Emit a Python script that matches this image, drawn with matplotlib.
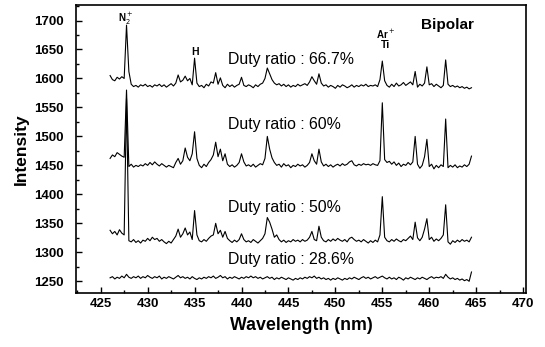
import numpy as np
import matplotlib
matplotlib.use("Agg")
import matplotlib.pyplot as plt
from matplotlib.ticker import MultipleLocator

plt.rcParams["font.family"] = ["Liberation Sans", "DejaVu Sans"]

# ======================
# Data (0.25 nm steps from 426 to 464.5 nm)
# ======================

wavelength = np.arange(426.0, 464.51, 0.25)

duty_667 = [
    1605, 1598, 1596, 1602, 1599, 1603, 1600, 1692, 1612, 1590, 1586, 1588, 1585, 1589, 1587, 1590, 1586, 1588, 1585, 1589,
    1587, 1590, 1586, 1589, 1585, 1588, 1591, 1587, 1592, 1606, 1594, 1597, 1604, 1596, 1600, 1589, 1635, 1592, 1586, 1588,
    1584, 1590, 1587, 1594, 1592, 1610, 1590, 1601, 1588, 1584, 1590, 1586, 1589, 1585, 1588, 1590, 1602, 1588, 1586, 1589,
    1587, 1584, 1589, 1586, 1590, 1592, 1600, 1618, 1608, 1598, 1592, 1589, 1591, 1587, 1590, 1586, 1589, 1585, 1588, 1586,
    1590, 1587, 1589, 1591, 1588, 1594, 1603, 1596, 1590, 1608, 1592, 1587, 1589, 1585, 1588, 1586, 1583, 1588, 1585, 1589,
    1587, 1584, 1586, 1589, 1585, 1588, 1586, 1589, 1587, 1590, 1586, 1588, 1587, 1589, 1586, 1598, 1630, 1596, 1588, 1585,
    1590, 1586, 1592, 1587, 1589, 1593, 1588, 1591, 1594, 1589, 1612, 1585, 1590, 1587, 1592, 1620, 1589, 1591, 1586, 1590,
    1587, 1584, 1588, 1632, 1590, 1586, 1588, 1585, 1587, 1584, 1586, 1583, 1585, 1582, 1584,
]

duty_60 = [
    1462, 1468, 1465, 1472, 1469, 1466, 1464, 1580, 1448, 1452, 1447, 1450, 1448, 1451, 1449, 1453, 1450, 1455, 1451, 1456,
    1452, 1449, 1453, 1450, 1447, 1450, 1448, 1446, 1455, 1462, 1452, 1458, 1480, 1464, 1458, 1470, 1508, 1462, 1450, 1446,
    1452, 1448, 1455, 1460, 1468, 1490, 1465, 1478, 1458, 1470, 1452, 1448, 1451, 1447, 1450, 1455, 1470, 1456, 1449, 1451,
    1448, 1452, 1447, 1450, 1453, 1451, 1462, 1500, 1478, 1463, 1455, 1450, 1452, 1447, 1453, 1449, 1451, 1446, 1450, 1448,
    1452, 1449, 1451, 1447, 1450, 1455, 1470, 1458, 1452, 1478, 1456, 1449, 1452, 1448, 1451, 1447, 1450, 1452, 1449, 1453,
    1450, 1452, 1456, 1458, 1451, 1449, 1452, 1450, 1453, 1451, 1452, 1450, 1453, 1451, 1450, 1458, 1558, 1460, 1455, 1457,
    1452, 1456, 1450, 1454, 1448, 1452, 1450, 1455, 1451, 1456, 1500, 1452, 1445, 1450, 1465, 1495, 1448, 1452, 1444, 1450,
    1446, 1451, 1448, 1530, 1446, 1450, 1447, 1451, 1446, 1449, 1447, 1451, 1448, 1452, 1466,
]

duty_50 = [
    1338, 1332, 1336, 1330, 1339, 1333, 1330, 1565, 1320, 1318, 1322, 1317, 1320, 1316, 1321, 1319, 1324, 1320, 1326, 1322,
    1324, 1319, 1322, 1318, 1315, 1319, 1316, 1322, 1328, 1340, 1326, 1332, 1342, 1330, 1335, 1322, 1372, 1330, 1320, 1318,
    1322, 1319, 1324, 1328, 1330, 1350, 1332, 1338, 1326, 1336, 1324, 1320, 1317, 1321, 1318, 1322, 1332, 1322, 1318, 1320,
    1317, 1322, 1319, 1316, 1320, 1324, 1332, 1360, 1352, 1340, 1326, 1330, 1322, 1318, 1321, 1317, 1320, 1318, 1322, 1319,
    1321, 1318, 1322, 1319, 1321, 1326, 1336, 1322, 1320, 1345, 1326, 1320, 1318, 1322, 1319, 1323, 1320, 1324, 1321, 1319,
    1322, 1318, 1324, 1326, 1322, 1319, 1321, 1318, 1322, 1319, 1316, 1320, 1317, 1321, 1318, 1330, 1396, 1326, 1320, 1318,
    1322, 1319, 1323, 1320, 1318, 1322, 1320, 1324, 1328, 1322, 1352, 1325, 1320, 1326, 1340, 1358, 1322, 1326, 1319, 1323,
    1320, 1324, 1330, 1382, 1318, 1314, 1320, 1317, 1321, 1318, 1322, 1319, 1321, 1318, 1326,
]

duty_286 = [
    1256, 1258, 1254, 1257, 1255, 1259, 1256, 1262, 1257, 1255, 1258, 1256, 1259, 1255, 1258, 1256, 1260, 1257, 1255, 1258,
    1256, 1259, 1254, 1257, 1255, 1258, 1256, 1254, 1257, 1260, 1256, 1258, 1255, 1257, 1254, 1258, 1255, 1253, 1256, 1254,
    1257, 1255, 1258, 1256, 1259, 1255, 1257, 1260, 1256, 1258, 1254, 1257, 1255, 1258, 1256, 1254, 1257, 1255, 1258, 1256,
    1259, 1256, 1258, 1255, 1257, 1254, 1256, 1258, 1255, 1257, 1253, 1256, 1254, 1257, 1255, 1253, 1256, 1254, 1252, 1255,
    1253, 1256, 1254, 1257, 1255, 1258, 1256, 1259, 1255, 1257, 1254, 1256, 1253, 1255, 1252, 1255, 1253, 1256, 1254, 1252,
    1255, 1253, 1256, 1254, 1257, 1255, 1253, 1256, 1258, 1255, 1257, 1254, 1256, 1258, 1255, 1257, 1259, 1256, 1254, 1257,
    1254, 1256, 1253, 1257, 1255, 1252, 1256, 1254, 1257, 1255, 1253, 1256, 1254, 1257, 1255, 1253, 1256, 1258, 1255, 1257,
    1256, 1258, 1255, 1262, 1257, 1254, 1256, 1253, 1255, 1252, 1254, 1251, 1253, 1250, 1266,
]

series = [duty_667, duty_60, duty_50, duty_286]
labels = ["Duty ratio : 66.7%", "Duty ratio : 60%", "Duty ratio : 50%", "Duty ratio : 28.6%"]
label_y = [1632, 1520, 1378, 1287]

# ======================
# Plot
# ======================

fig = plt.figure(figsize=(5.45, 3.47), dpi=100)
ax = fig.add_axes([0.140, 0.156, 0.825, 0.830])

for values in series:
    ax.plot(wavelength, values, color="black", linewidth=0.8)

for text, y in zip(labels, label_y):
    ax.text(438.55, y, text, fontsize=11.4, va="center", ha="left")

ax.text(461.9, 1693, "Bipolar", fontsize=11, fontweight="bold", ha="center", va="center")
ax.text(427.7, 1703, r"N$_2^+$", fontsize=7, fontweight="bold", ha="center", va="center")
ax.text(435.0, 1645, "H", fontsize=7.5, fontweight="bold", ha="center", va="center")
ax.text(455.3, 1676, r"Ar$^+$", fontsize=7, fontweight="bold", ha="center", va="center")
ax.text(455.3, 1657, "Ti", fontsize=7.5, fontweight="bold", ha="center", va="center")

ax.set_xlim(422.4, 470.3)
ax.set_ylim(1230, 1727)
ax.xaxis.set_major_locator(MultipleLocator(5))
ax.xaxis.set_minor_locator(MultipleLocator(2.5))
ax.yaxis.set_major_locator(MultipleLocator(50))
ax.yaxis.set_minor_locator(MultipleLocator(25))

ax.tick_params(which="both", direction="in", top=False, right=False, width=1.0)
ax.tick_params(which="major", length=4, labelsize=9.5)
ax.tick_params(axis="y", which="major", pad=9)
ax.tick_params(which="minor", length=2)
for lab in ax.get_xticklabels() + ax.get_yticklabels():
    lab.set_fontweight("bold")
for sp in ax.spines.values():
    sp.set_linewidth(1.2)

ax.set_xlabel("Wavelength (nm)", fontsize=12.8, fontweight="bold", labelpad=5)
ax.set_ylabel("Intensity", fontsize=12.5, fontweight="bold", labelpad=4)

fig.savefig("out.png", dpi=100)
